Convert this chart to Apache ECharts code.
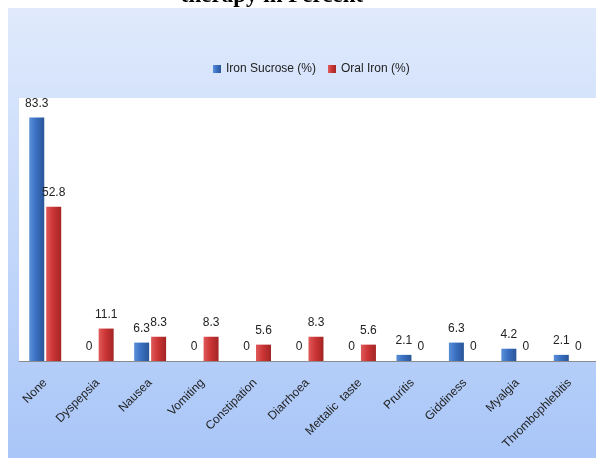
<!DOCTYPE html>
<html>
<head>
<meta charset="utf-8">
<script src="https://cdn.jsdelivr.net/npm/echarts@6/dist/echarts.min.js"></script>
<style>
  html, body { margin: 0; padding: 0; background: #fff; }
  #chart { width: 596px; height: 458px; }
</style>
</head>
<body>
<div id="chart"></div>
<script>
const categories = ['None', 'Dyspepsia', 'Nausea', 'Vomiting', 'Constipation', 'Diarrhoea',
  'Mettalic  taste', 'Pruritis', 'Giddiness', 'Myalgia', 'Thrombophlebitis'];
const ironSucrose = [83.3, 0, 6.3, 0, 0, 0, 0, 2.1, 6.3, 4.2, 2.1];
const oralIron = [52.8, 11.1, 8.3, 8.3, 5.6, 8.3, 5.6, 0, 0, 0, 0];

const narrow = "'Liberation Sans Narrow', 'Arial Narrow', 'Liberation Sans', sans-serif";

function barColor(light, mid, dark) {
  return new echarts.graphic.LinearGradient(0, 0, 1, 0, [
    {offset: 0, color: light},
    {offset: 0.45, color: mid},
    {offset: 1, color: dark}
  ]);
}

const chart = echarts.init(document.getElementById('chart'));
chart.setOption({
  animation: false,
  graphic: [
    {
      type: 'rect', z: -10, silent: true,
      shape: {x: 8, y: 8, width: 588, height: 450},
      style: {
        fill: new echarts.graphic.LinearGradient(0, 0, 0, 1, [
          {offset: 0, color: '#e0eafc'},
          {offset: 1, color: '#a9c6f8'}
        ])
      }
    },
    {
      type: 'text', silent: true,
      style: {
        x: 272, y: 8, text: 'therapy in Percent',
        font: "bold 23px 'Liberation Serif', 'Times New Roman', serif",
        textAlign: 'center', textVerticalAlign: 'bottom', fill: '#000'
      }
    }
  ],
  legend: {
    top: 58,
    left: 208,
    itemWidth: 8,
    itemHeight: 8,
    itemGap: 12,
    icon: 'rect',
    textStyle: {fontFamily: narrow, fontSize: 12, color: '#222'},
    data: ['Iron Sucrose (%)', 'Oral Iron (%)']
  },
  grid: {
    left: 19, right: 0, top: 98, bottom: 97,
    show: true, backgroundColor: '#fff', borderWidth: 0
  },
  xAxis: {
    type: 'category',
    data: categories,
    axisLine: {lineStyle: {color: '#8c8c8c', width: 1}},
    axisTick: {show: false},
    axisLabel: {
      interval: 0, rotate: 45, margin: 20,
      fontFamily: narrow, fontSize: 12, color: '#222'
    }
  },
  yAxis: {
    type: 'value', min: 0, max: 90, show: false,
    splitLine: {show: false}
  },
  series: [
    {
      name: 'Iron Sucrose (%)',
      type: 'bar',
      data: ironSucrose,
      barWidth: 15,
      barGap: '13%',
      itemStyle: {color: barColor('#5a90d8', '#3a70c2', '#2a5598')},
      label: {show: true, position: 'top', distance: 8, fontFamily: narrow, fontSize: 12, color: '#222'}
    },
    {
      name: 'Oral Iron (%)',
      type: 'bar',
      data: oralIron,
      barWidth: 15,
      itemStyle: {color: barColor('#e05a5a', '#cc3535', '#a32525')},
      label: {show: true, position: 'top', distance: 8, fontFamily: narrow, fontSize: 12, color: '#222'}
    }
  ]
});
</script>
</body>
</html>
